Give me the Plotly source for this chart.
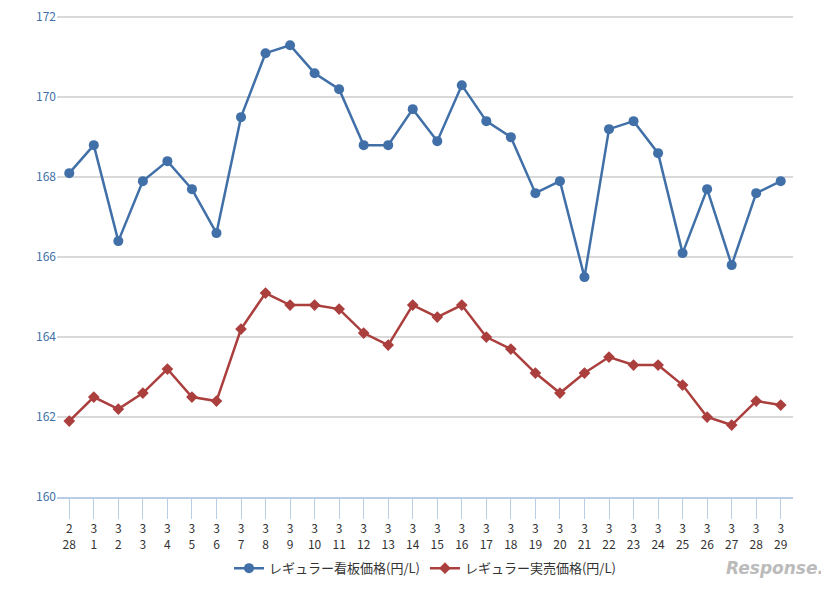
import plotly.graph_objects as go

months = ["2"] + ["3"] * 29
days = ["28"] + [str(d) for d in range(1, 30)]
tick_labels = [f"{m}<br>{d}" for m, d in zip(months, days)]
x_idx = list(range(30))

kanban = [168.1, 168.8, 166.4, 167.9, 168.4, 167.7, 166.6, 169.5, 171.1, 171.3,
          170.6, 170.2, 168.8, 168.8, 169.7, 168.9, 170.3, 169.4, 169.0, 167.6,
          167.9, 165.5, 169.2, 169.4, 168.6, 166.1, 167.7, 165.8, 167.6, 167.9]
jitsubai = [161.9, 162.5, 162.2, 162.6, 163.2, 162.5, 162.4, 164.2, 165.1, 164.8,
            164.8, 164.7, 164.1, 163.8, 164.8, 164.5, 164.8, 164.0, 163.7, 163.1,
            162.6, 163.1, 163.5, 163.3, 163.3, 162.8, 162.0, 161.8, 162.4, 162.3]
y_ticks = [160, 162, 164, 166, 168, 170, 172]

font = "Noto Sans CJK JP, sans-serif"
fig = go.Figure()
fig.add_trace(go.Scatter(x=x_idx, y=kanban, mode="lines+markers",
                         name="レギュラー看板価格(円/L)",
                         line=dict(color="#4170a8", width=2.5),
                         marker=dict(symbol="circle", size=10, color="#4170a8")))
fig.add_trace(go.Scatter(x=x_idx, y=jitsubai, mode="lines+markers",
                         name="レギュラー実売価格(円/L)",
                         line=dict(color="#ab3f3e", width=2.5),
                         marker=dict(symbol="diamond", size=9, color="#ab3f3e")))
fig.update_layout(
    width=829, height=597, paper_bgcolor="white", plot_bgcolor="white",
    margin=dict(l=49, r=44, t=8, b=108, autoexpand=False),
    font=dict(family=font, size=12, color="#333"),
    legend=dict(orientation="h", x=0.5, xanchor="center", y=-0.148, yanchor="middle",
                font=dict(size=13)),
    xaxis=dict(tickmode="array", tickvals=x_idx, ticktext=tick_labels,
               range=[-0.5, 29.5], showgrid=False, showline=True, automargin=False,
               linecolor="#b9cde5", linewidth=2, ticks="outside", ticklen=20,
               tickcolor="#b9cde5", tickwidth=1, tickson="boundaries", zeroline=False,
               tickfont=dict(size=12, color="#333")),
    yaxis=dict(range=[160, 172.03], tickvals=y_ticks, showgrid=True, automargin=False,
               gridcolor="#d9d9d9", gridwidth=1.5, zeroline=False,
               ticklabeloverflow="allow",
               tickfont=dict(size=12, color="#4170a8")),
    annotations=[dict(text="<i><b>Response.</b></i>", x=1.045, xref="paper",
                      y=-0.172, yref="paper", showarrow=False, xanchor="right",
                      font=dict(size=17, color="#bbbbbb", family="DejaVu Sans"))],
)
fig.write_html("out.html")
